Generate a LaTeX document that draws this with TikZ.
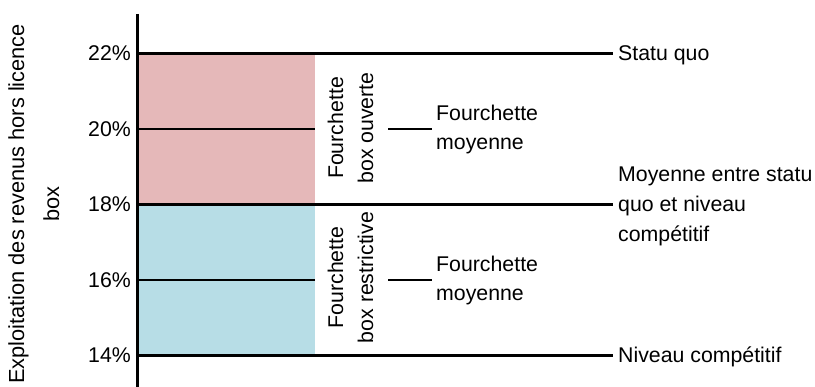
\documentclass[tikz,border=0pt]{standalone}
\usepackage{fontspec}
\setmainfont{Liberation Sans}
\definecolor{pinkfill}{RGB}{229,184,185}
\definecolor{bluefill}{RGB}{183,221,230}
\begin{document}
\begin{tikzpicture}[x=1pt,y=1pt,
  txt/.style={font=\fontsize{21.3}{29.5}\selectfont, inner sep=0pt},
  rtxt/.style={font=\fontsize{21.3}{30}\selectfont, inner sep=0pt, inner xsep=5pt, anchor=base west, align=left},
  vtxt/.style={font=\fontsize{21.3}{30}\selectfont, inner sep=0pt, rotate=90, anchor=base, align=center},
  mtxt/.style={font=\fontsize{21.3}{29}\selectfont, inner sep=0pt, inner xsep=4pt, anchor=base west, align=left},
  rule/.style={line width=2.6pt},
  axisline/.style={line width=3.2pt}]
\useasboundingbox (0,0) rectangle (815,387);
% bands
\fill[pinkfill] (139,333.5) rectangle (314.5,182.5);
\fill[bluefill] (139,182.5) rectangle (314.5,31.5);
% axis coordinates
\coordinate (axtop) at (137.5,373);
\coordinate (axbot) at (137.5,0);
\coordinate (a22) at (137.5,333.5);
\coordinate (a20) at (137.5,258);
\coordinate (a18) at (137.5,182.5);
\coordinate (a16) at (137.5,107);
\coordinate (a14) at (137.5,31.5);
\coordinate (e20) at (314.5,258);
\coordinate (e16) at (314.5,107);
\coordinate (d20) at (388,258);
\coordinate (d16) at (388,107);
% tick labels
\node[txt, anchor=east] (t22) at (131,333.5) {22\%};
\node[txt, anchor=east] (t20) at (131,258) {20\%};
\node[txt, anchor=east] (t18) at (131,182.5) {18\%};
\node[txt, anchor=east] (t16) at (131,107) {16\%};
\node[txt, anchor=east] (t14) at (131,31.5) {14\%};
% right labels
\node[rtxt] (sq) at (613,326) {Statu quo};
\node[rtxt] (moy) at (613,145.3) {Moyenne entre statu\\quo et niveau\\compétitif};
\node[rtxt] (niv) at (613,24) {Niveau compétitif};
% middle labels
\node[vtxt] (fo) at (373,259) {Fourchette\\box ouverte};
\node[vtxt] (fr) at (373,109.5) {Fourchette\\box restrictive};
\node[mtxt] (fm1) at (432,237.7) {Fourchette\\moyenne};
\node[mtxt] (fm2) at (432,86.3) {Fourchette\\moyenne};
% axis title
\node[inner sep=0pt, rotate=90, anchor=base, align=center, font=\fontsize{21.8}{35}\selectfont] (yl) at (59,183) {Exploitation des revenus hors licence\\box};
% lines
\draw[rule] (a22) -- (a22 -| sq.west);
\draw[rule] (a18) -- (a18 -| moy.west);
\draw[rule] (a14) -- (a14 -| niv.west);
\draw[rule] (a20) -- (e20);
\draw[rule] (a16) -- (e16);
\draw[rule] (d20) -- (d20 -| fm1.west);
\draw[rule] (d16) -- (d16 -| fm2.west);
\draw[axisline] (axtop) -- (axbot);
\end{tikzpicture}
\end{document}
